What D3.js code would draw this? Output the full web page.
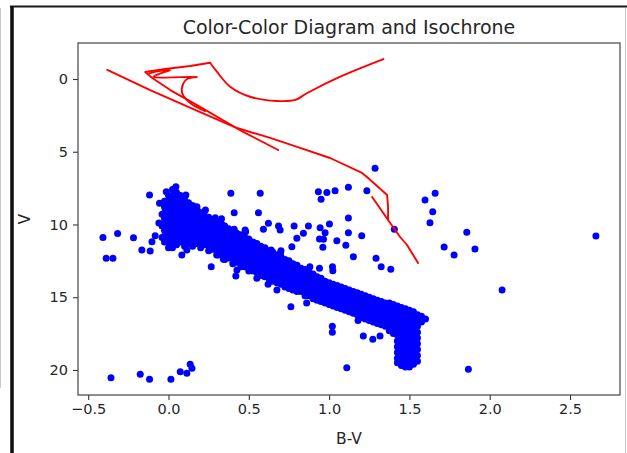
<!DOCTYPE html>
<html>
<head>
<meta charset="utf-8">
<script src="https://cdn.jsdelivr.net/npm/d3@7"></script>
<style>
  html, body { margin: 0; padding: 0; background: #fff; overflow: hidden; }
  svg { display: block; }
  text { font-family: "DejaVu Sans", sans-serif; fill: #262626; }
</style>
</head>
<body>
<svg id="chart" width="627" height="453"></svg>
<script>
// ---- axis ticks ----
const xTicks = [-0.5, 0, 0.5, 1, 1.5, 2, 2.5];
const yTicks = [0, 5, 10, 15, 20];

// ---- isochrone (B-V, V) ----
const isoMainSequence = [
  [1.268, 8.11], [1.367, 9.69], [1.442, 10.86], [1.485, 11.41], [1.554, 12.65],
  [1.485, 11.41], [1.442, 10.86], [1.367, 9.69], [1.367, 8.80], [1.361, 7.97],
  [1.243, 6.80], [1.205, 6.46], [1.006, 5.43], [0.819, 4.74], [0.633, 4.05],
  [0.427, 3.37], [0.197, 2.27], [-0.114, 0.76], [-0.381, -0.62]
];
const isoSubgiant = [
  [0.683, 4.88], [0.465, 3.64], [0.197, 1.92], [0.011, 0.76], [-0.101, -0.07],
  [-0.145, -0.48], [-0.021, -0.69], [0.135, -0.89], [0.259, -1.12]
];
const isoGiantBranch = [
  [0.259, -1.12], [0.301, -0.50], [0.384, 0.53], [0.508, 1.22], [0.675, 1.51],
  [0.789, 1.44], [0.861, 0.98], [1.069, -0.16], [1.338, -1.37]
];
const isoLoop = [
  [-0.120, -0.38], [-0.060, -0.55], [0.010, -0.60], [-0.040, -0.42],
  [-0.095, -0.14], [0.179, -0.14], [0.116, 0.0], [0.091, 0.34], [0.085, 0.96],
  [0.135, 1.65], [0.228, 2.20]
];

// ---- cluster stars: B-V column, V values ----
const turnoffStars = [
  [-0.040, [9.3, 10.1, 10.9]],
  [-0.025, [8.4, 8.8, 9.2, 9.6, 10.0, 10.4, 10.8, 11.2]],
  [0.000, [8.0, 8.4, 8.8, 9.2, 9.6, 10.0, 10.4, 10.8, 11.2, 11.6]],
  [0.025, [7.6, 8.0, 8.4, 8.8, 9.2, 9.6, 10.0, 10.4, 10.8, 11.2, 11.6]],
  [0.050, [7.8, 8.2, 8.6, 9.0, 9.4, 9.8, 10.2, 10.6, 11.0, 11.4]],
  [0.075, [8.0, 8.4, 8.8, 9.2, 9.6, 10.0, 10.4, 10.8, 11.2]],
  [0.100, [8.3, 8.7, 9.1, 9.5, 9.9, 10.3, 10.7, 11.1, 11.5]],
  [0.125, [8.5, 8.9, 9.3, 9.7, 10.1, 10.5, 10.9, 11.3]],
  [0.150, [8.7, 9.1, 9.5, 9.9, 10.3, 10.7, 11.1, 11.5]],
  [0.175, [8.9, 9.3, 9.7, 10.1, 10.5, 10.9, 11.3]]
];
const mainSequenceStars = [
  [0.200, [9.2, 9.6, 10.0, 10.4, 10.8, 11.2, 11.6]],
  [0.225, [9.4, 9.8, 10.2, 10.6, 11.0, 11.4]],
  [0.250, [9.5, 9.9, 10.3, 10.7, 11.1, 11.5, 11.8]],
  [0.275, [9.7, 10.1, 10.5, 10.9, 11.3, 11.7]],
  [0.300, [9.8, 10.2, 10.6, 11.0, 11.4, 11.8, 12.1]],
  [0.325, [10.0, 10.4, 10.8, 11.2, 11.6, 12.0]],
  [0.350, [10.1, 10.5, 10.9, 11.3, 11.7, 12.1, 12.4]],
  [0.375, [10.3, 10.7, 11.1, 11.5, 11.9, 12.3]],
  [0.400, [10.4, 10.8, 11.2, 11.6, 12.0, 12.4, 12.7]],
  [0.425, [10.6, 11.0, 11.4, 11.8, 12.2, 12.6]],
  [0.450, [10.7, 11.1, 11.5, 11.9, 12.3, 12.7, 12.9]],
  [0.475, [10.9, 11.3, 11.7, 12.1, 12.5, 12.9]],
  [0.500, [11.0, 11.4, 11.8, 12.2, 12.6, 13.0, 13.2]],
  [0.525, [11.2, 11.6, 12.0, 12.4, 12.8, 13.2]],
  [0.550, [11.3, 11.7, 12.1, 12.5, 12.9, 13.3]],
  [0.575, [11.5, 11.9, 12.3, 12.7, 13.1, 13.5]],
  [0.600, [11.6, 12.0, 12.4, 12.8, 13.2, 13.6]],
  [0.625, [11.8, 12.2, 12.6, 13.0, 13.4, 13.7]],
  [0.650, [11.9, 12.3, 12.7, 13.1, 13.5, 13.9]],
  [0.675, [12.1, 12.5, 12.9, 13.3, 13.7, 14.0]],
  [0.700, [12.2, 12.6, 13.0, 13.4, 13.8, 14.1]],
  [0.725, [12.4, 12.8, 13.2, 13.6, 14.0, 14.3]],
  [0.750, [12.5, 12.9, 13.3, 13.7, 14.1, 14.4]],
  [0.775, [12.7, 13.1, 13.5, 13.9, 14.3, 14.5]],
  [0.800, [12.8, 13.2, 13.6, 14.0, 14.4, 14.6]],
  [0.825, [13.0, 13.4, 13.8, 14.2, 14.6]],
  [0.850, [13.1, 13.5, 13.9, 14.3, 14.7, 14.9]],
  [0.875, [13.3, 13.7, 14.1, 14.5, 14.9]],
  [0.900, [13.4, 13.8, 14.2, 14.6, 15.0, 15.1]],
  [0.925, [13.6, 14.0, 14.4, 14.8, 15.2]],
  [0.950, [13.7, 14.1, 14.5, 14.9, 15.3]],
  [0.975, [13.9, 14.3, 14.7, 15.1, 15.4]],
  [1.000, [14.0, 14.4, 14.8, 15.2, 15.5]],
  [1.025, [14.1, 14.5, 14.9, 15.3, 15.6]],
  [1.050, [14.2, 14.6, 15.0, 15.4, 15.7]],
  [1.075, [14.3, 14.7, 15.1, 15.5, 15.8]],
  [1.100, [14.4, 14.8, 15.2, 15.6, 15.9]],
  [1.125, [14.5, 14.9, 15.3, 15.7, 16.0]],
  [1.150, [14.6, 15.0, 15.4, 15.8, 16.1]],
  [1.175, [14.7, 15.1, 15.5, 15.9, 16.2]],
  [1.200, [14.8, 15.2, 15.6, 16.0, 16.4]],
  [1.225, [14.9, 15.3, 15.7, 16.1, 16.5]],
  [1.250, [15.0, 15.4, 15.8, 16.2, 16.6]],
  [1.275, [15.1, 15.5, 15.9, 16.3, 16.7]],
  [1.300, [15.2, 15.6, 16.0, 16.4, 16.8]],
  [1.325, [15.3, 15.7, 16.1, 16.5, 16.9]],
  [1.350, [15.4, 15.8, 16.2, 16.6, 17.0]],
  [1.375, [15.4, 15.8, 16.2, 16.6, 17.0, 17.3]],
  [1.400, [15.5, 15.9, 16.3, 16.7, 17.1, 17.5]]
];
const lowerSequenceStars = [
  [1.425, [15.6, 16.0, 16.4, 16.8, 17.2, 17.6, 18.0, 18.4, 18.8, 19.2, 19.5]],
  [1.450, [15.7, 16.1, 16.5, 16.9, 17.3, 17.7, 18.1, 18.5, 18.9, 19.3, 19.7]],
  [1.475, [15.8, 16.2, 16.6, 17.0, 17.4, 17.8, 18.2, 18.6, 19.0, 19.4, 19.8]],
  [1.500, [15.9, 16.3, 16.7, 17.1, 17.5, 17.9, 18.3, 18.7, 19.1, 19.5, 19.8]],
  [1.525, [16.0, 16.4, 16.8, 17.2, 17.6, 18.0, 18.4, 18.8, 19.2, 19.6]],
  [1.550, [16.2, 16.6, 17.0, 17.4, 17.8, 18.2, 18.6, 19.0, 19.4]],
  [1.575, [16.3, 16.7]],
  [1.600, [16.5]]
];

// ---- scattered field stars (B-V, V) ----
const fieldStars = [
  [-0.408, 10.89], [-0.317, 10.62], [-0.388, 12.32], [-0.346, 12.32], [-0.358, 20.53],
  [-0.218, 10.91], [-0.166, 11.75], [-0.114, 11.82], [-0.103, 11.18], [-0.083, 10.77],
  [-0.118, 7.97], [-0.056, 8.54], [-0.014, 7.75], [0.046, 7.40], [0.108, 7.97],
  [0.177, 8.78], [0.187, 9.12], [0.388, 7.86], [0.571, 7.86], [0.409, 9.19],
  [0.560, 9.19], [0.291, 9.53], [0.332, 9.99], [0.409, 10.33], [0.477, 10.38],
  [0.591, 10.33], [0.622, 9.92], [0.685, 10.10], [0.695, 10.38], [0.782, 10.10],
  [0.840, 10.60], [0.799, 10.95], [0.768, 11.53], [0.871, 10.10], [0.944, 10.22],
  [1.002, 9.97], [0.975, 10.56], [0.965, 11.02], [0.961, 11.57], [1.048, 11.11],
  [0.933, 7.75], [0.986, 7.81], [1.037, 7.68], [0.950, 8.27], [1.120, 7.44],
  [1.235, 7.68], [1.286, 6.14], [0.940, 13.01], [1.021, 12.90], [0.695, 11.98],
  [0.639, 11.75], [0.591, 11.68], [0.083, 12.10], [0.114, 11.75], [0.266, 12.90],
  [0.311, 12.10], [0.342, 12.39], [0.426, 13.13], [0.419, 13.54], [0.675, 14.50],
  [0.762, 15.65], [1.597, 8.32], [1.660, 7.86], [1.645, 9.12], [1.628, 9.88],
  [1.857, 10.54], [1.908, 11.68], [1.716, 11.55], [1.778, 12.10], [1.406, 10.33],
  [1.120, 9.55], [0.940, 11.00], [1.120, 10.56], [1.203, 10.77], [1.104, 11.43],
  [1.151, 12.21], [1.292, 12.32], [1.324, 12.90], [1.384, 13.08], [1.023, 13.18],
  [1.213, 17.66], [1.272, 17.89], [1.317, 17.66], [1.110, 19.84], [1.867, 19.95],
  [2.661, 10.79], [2.077, 14.50], [-0.176, 20.30], [-0.118, 20.64], [0.015, 20.64],
  [0.073, 20.12], [0.114, 20.23], [0.135, 19.61], [0.146, 19.88], [1.020, 17.00],
  [1.020, 17.40], [0.550, 13.70], [0.860, 15.40], [0.620, 14.10], [1.180, 16.60],
  [0.230, 9.00], [0.330, 9.60], [0.480, 10.50], [0.700, 11.80], [0.880, 12.90],
  [-0.060, 9.90]
];

// ---- layout ----
const svg = d3.select("#chart");
const plot = { left: 78, right: 620, top: 43, bottom: 395 };

const x = d3.scaleLinear().domain([-0.5635, 2.811]).range([plot.left, plot.right]);
const y = d3.scaleLinear().domain([-2.474, 21.72]).range([plot.top, plot.bottom]);

// window frame around the figure
const frame = svg.append("g");
frame.append("rect").attr("x", 0).attr("y", 0).attr("width", 627).attr("height", 453).attr("fill", "#fff");
frame.append("line").attr("x1", 0.5).attr("x2", 0.5).attr("y1", 8).attr("y2", 388)
  .attr("stroke", "#c8c8c8").attr("stroke-width", 1);
frame.append("line").attr("x1", 10).attr("x2", 627).attr("y1", 6.5).attr("y2", 6.5)
  .attr("stroke", "#1a1a1a").attr("stroke-width", 2.2);
frame.append("line").attr("x1", 12).attr("x2", 12).attr("y1", 6).attr("y2", 453)
  .attr("stroke", "#111").attr("stroke-width", 3.6);
frame.append("line").attr("x1", 625.5).attr("x2", 625.5).attr("y1", 8).attr("y2", 453)
  .attr("stroke", "#c8c8c8").attr("stroke-width", 1);

// stars
const expand = cols => cols.flatMap(([bv, vs]) => vs.map(v => [bv, v]));
const stars = [
  ...expand(turnoffStars),
  ...expand(mainSequenceStars),
  ...expand(lowerSequenceStars),
  ...fieldStars
];

svg.append("clipPath").attr("id", "plot-clip")
  .append("rect").attr("x", plot.left).attr("y", plot.top)
  .attr("width", plot.right - plot.left).attr("height", plot.bottom - plot.top);

const body = svg.append("g").attr("clip-path", "url(#plot-clip)");

body.append("g").selectAll("circle").data(stars).join("circle")
  .attr("cx", d => x(d[0]))
  .attr("cy", d => y(d[1]))
  .attr("r", 3.5)
  .attr("fill", "#0000ff");

// isochrone
const straight = d3.line().x(d => x(d[0])).y(d => y(d[1]));
const smooth = d3.line().x(d => x(d[0])).y(d => y(d[1])).curve(d3.curveCatmullRom.alpha(0.5));
const isoStyle = sel => sel
  .attr("fill", "none")
  .attr("stroke", "#ff0000")
  .attr("stroke-width", 1.9)
  .attr("stroke-linejoin", "round")
  .attr("stroke-linecap", "round");

const iso = body.append("g");
iso.append("path").attr("d", straight(isoMainSequence)).call(isoStyle);
iso.append("path").attr("d", straight(isoSubgiant)).call(isoStyle);
iso.append("path").attr("d", smooth(isoGiantBranch)).call(isoStyle);
iso.append("path").attr("d", smooth(isoLoop)).call(isoStyle);

// axes
const xAxis = svg.append("g").attr("transform", `translate(0,${plot.bottom})`)
  .call(d3.axisBottom(x).tickValues(xTicks).tickFormat(d3.format(".1f")).tickSize(5).tickPadding(4));
const yAxis = svg.append("g").attr("transform", `translate(${plot.left},0)`)
  .call(d3.axisLeft(y).tickValues(yTicks).tickFormat(d3.format("d")).tickSize(5).tickPadding(5));

[xAxis, yAxis].forEach(a => {
  a.select(".domain").remove();
  a.selectAll(".tick line").attr("stroke", "#333").attr("stroke-width", 1.1);
  a.selectAll(".tick text").attr("font-size", "14.5px").attr("fill", "#262626")
    .attr("font-family", "DejaVu Sans, sans-serif");
});

svg.append("rect")
  .attr("x", plot.left).attr("y", plot.top)
  .attr("width", plot.right - plot.left).attr("height", plot.bottom - plot.top)
  .attr("fill", "none").attr("stroke", "#444").attr("stroke-width", 1.2);

// titles
svg.append("text")
  .attr("x", (plot.left + plot.right) / 2).attr("y", 34)
  .attr("text-anchor", "middle").attr("font-size", "19px")
  .text("Color-Color Diagram and Isochrone");

svg.append("text")
  .attr("x", (plot.left + plot.right) / 2).attr("y", 444)
  .attr("text-anchor", "middle").attr("font-size", "15.5px")
  .text("B-V");

svg.append("text")
  .attr("transform", `translate(30,${(plot.top + plot.bottom) / 2}) rotate(-90)`)
  .attr("text-anchor", "middle").attr("font-size", "15px")
  .text("V");
</script>
</body>
</html>
